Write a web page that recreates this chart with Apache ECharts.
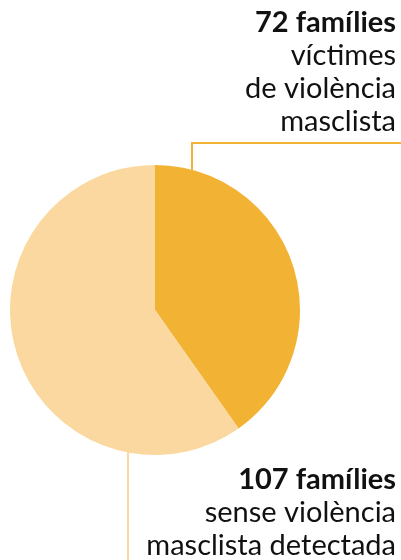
<!DOCTYPE html>
<html>
<head>
<meta charset="utf-8">
<script src="https://cdn.jsdelivr.net/npm/echarts@6/dist/echarts.min.js"></script>
<style>
  html, body { margin: 0; padding: 0; background: #fff; }
  #chart { width: 401px; height: 560px; }
</style>
</head>
<body>
<div id="chart"></div>
<script>
// dades
const names = ['72 famílies', '107 famílies'];
const values = [72, 107];
const descriptions = ['víctimes\nde violència\nmasclista', 'sense violència\nmasclista detectada'];
const colors = ['#F2B335', '#FBD89F'];

const chart = echarts.init(document.getElementById('chart'));

// posició de les etiquetes i línies guia
const layouts = [
  { x: 396, y: 6, verticalAlign: 'top', line: [[192, 170], [192, 143], [401, 143]] },
  { x: 396, y: 562, verticalAlign: 'bottom', line: [[128, 452], [128, 560], [128, 560]] }
];

chart.setOption({
  animation: false,
  series: [{
    type: 'pie',
    center: [155, 310],
    radius: 145,
    startAngle: 90,
    clockwise: true,
    avoidLabelOverlap: false,
    data: values.map((v, i) => ({
      value: v,
      name: names[i],
      itemStyle: { color: colors[i] },
      labelLine: { lineStyle: { color: colors[i], width: 2 } }
    })),
    label: {
      show: true,
      position: 'outside',
      overflow: 'none',
      fontFamily: 'Lato',
      fontSize: 29,
      lineHeight: 33,
      color: '#111',
      formatter: p => '{b|' + names[p.dataIndex] + '}\n{t|' + descriptions[p.dataIndex] + '}',
      align: 'right',
      rich: {
        b: { fontFamily: 'Lato', fontWeight: 'bold', fontSize: 29, lineHeight: 33, color: '#111', align: 'right' },
        t: { fontFamily: 'Lato', fontSize: 29, lineHeight: 33, color: '#111', align: 'right' }
      }
    },
    labelLine: { show: true, smooth: false },
    labelLayout: params => {
      const l = layouts[params.dataIndex];
      return {
        x: l.x,
        y: l.y,
        align: 'right',
        verticalAlign: l.verticalAlign,
        hideOverlap: false,
        labelLinePoints: l.line
      };
    },
    emphasis: { disabled: true }
  }]
});
</script>
</body>
</html>
